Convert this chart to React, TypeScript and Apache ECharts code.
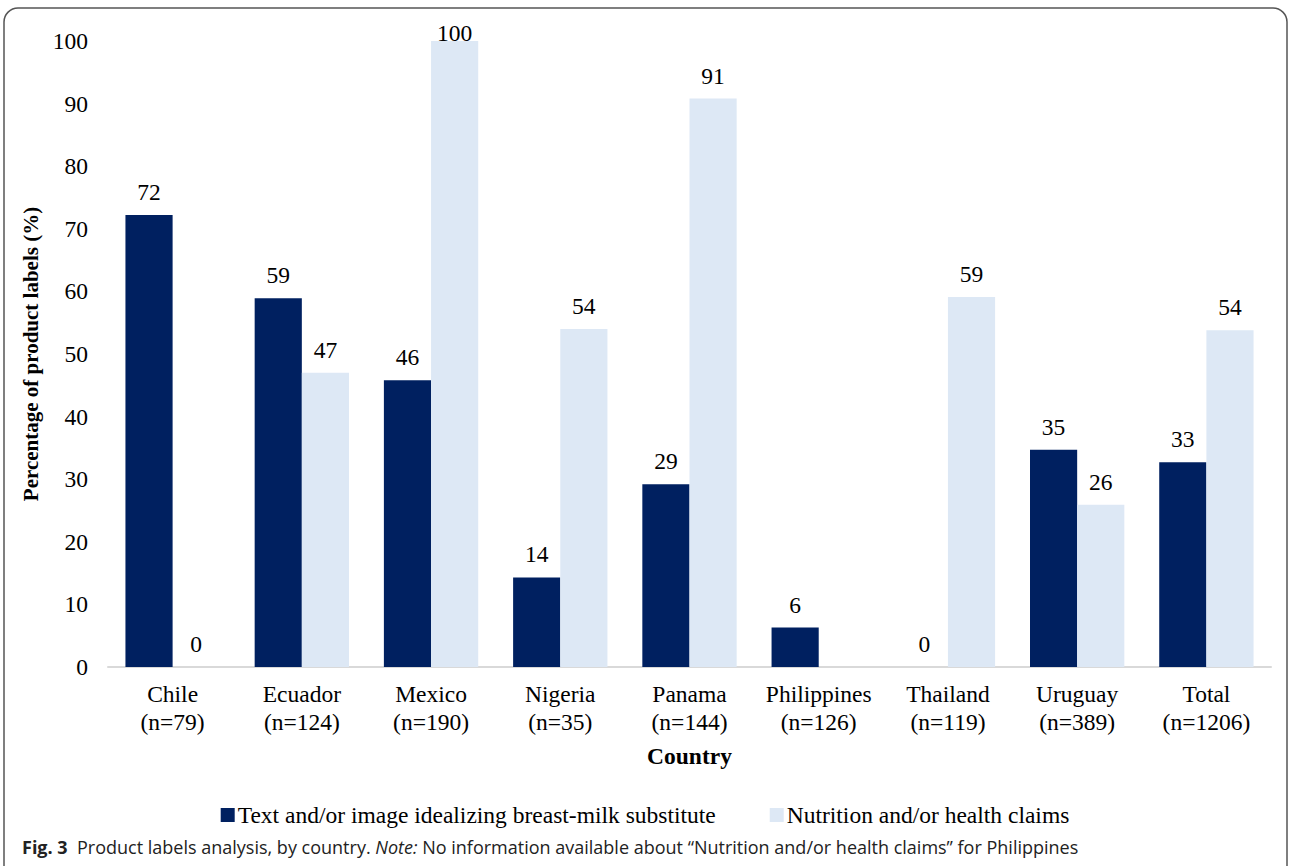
import React, { useEffect, useRef } from "react";
import * as echarts from "echarts";

const categories = [
  "Chile\n(n=79)",
  "Ecuador\n(n=124)",
  "Mexico\n(n=190)",
  "Nigeria\n(n=35)",
  "Panama\n(n=144)",
  "Philippines\n(n=126)",
  "Thailand\n(n=119)",
  "Uruguay\n(n=389)",
  "Total\n(n=1206)",
];
const idealizing = [72.2, 58.9, 45.8, 14.3, 29.2, 6.3, 0, 34.7, 32.7];
const claims: (number | null)[] = [0, 47.0, 100, 54.0, 90.8, null, 59.1, 25.9, 53.8];
const seriesNames = [
  "Text and/or image idealizing breast-milk substitute",
  "Nutrition and/or health claims",
];
const colors = ["#002060", "#DDE8F5"];

const SERIF = "'Liberation Serif', 'Times New Roman', serif";
const SANS = "'Open Sans', 'Noto Sans', sans-serif";
const FS = 23.5;

export default function App() {
  const ref = useRef<HTMLDivElement>(null);
  useEffect(() => {
    document.body.style.margin = "0";
    const chart = echarts.init(ref.current!, null, { renderer: "svg" });
    const label = {
      show: true,
      position: "top" as const,
      distance: 11,
      fontFamily: SERIF,
      fontSize: FS,
      color: "#000",
      formatter: (p: any) => (p.value == null ? "" : String(Math.round(p.value))),
    };
    const toData = (arr: (number | null)[]) =>
      arr.map((v) => (v != null && v >= 100 ? { value: v, label: { distance: -4 } } : v));
    chart.setOption({
      animation: false,
      backgroundColor: "#fff",
      grid: { left: 108, right: 19, top: 41, bottom: 199, containLabel: false },
      legend: {
        bottom: 34,
        left: "center",
        itemWidth: 14,
        itemHeight: 14,
        itemGap: 54,
        icon: "rect",
        textStyle: { fontFamily: SERIF, fontSize: FS, color: "#000", padding: [0, 0, 0, -2] },
        data: seriesNames,
      },
      xAxis: {
        type: "category",
        data: categories,
        name: "Country",
        nameLocation: "middle",
        nameGap: 77,
        nameTextStyle: { fontFamily: SERIF, fontSize: FS, fontWeight: "bold", color: "#000" },
        axisLine: { lineStyle: { color: "#D9D9D9", width: 2 } },
        axisTick: { show: false },
        axisLabel: {
          fontFamily: SERIF,
          fontSize: FS,
          color: "#000",
          lineHeight: 28,
          margin: 13,
          interval: 0,
        },
      },
      yAxis: {
        type: "value",
        min: 0,
        max: 100,
        interval: 10,
        name: "Percentage of product labels (%)",
        nameLocation: "middle",
        nameGap: 63,
        nameTextStyle: { fontFamily: SERIF, fontSize: 21, fontWeight: "bold", color: "#000" },
        axisLine: { show: false },
        axisTick: { show: false },
        splitLine: { show: false },
        axisLabel: { fontFamily: SERIF, fontSize: FS, color: "#000", margin: 20 },
      },
      series: [
        {
          name: seriesNames[0],
          type: "bar",
          data: toData(idealizing),
          itemStyle: { color: colors[0] },
          barGap: "0%",
          barCategoryGap: "27%",
          label,
        },
        {
          name: seriesNames[1],
          type: "bar",
          data: toData(claims),
          itemStyle: { color: colors[1] },
          barGap: "0%",
          barCategoryGap: "27%",
          label,
        },
      ],
      graphic: [
        {
          type: "rect",
          shape: { x: 4, y: 8, width: 1283, height: 900, r: 14 },
          style: { fill: "none", stroke: "#555", lineWidth: 1.5 },
          silent: true,
        },
        {
          type: "text",
          left: 22,
          top: 838,
          style: {
            text: "{b|Fig. 3}  Product labels analysis, by country. {i|Note:} No information available about \u201cNutrition and/or health claims\u201d for Philippines",
            fontFamily: SANS,
            fontSize: 18,
            fill: "#222",
            rich: {
              b: { fontFamily: SANS, fontSize: 18, fontWeight: "bold", fill: "#222" },
              i: { fontFamily: SANS, fontSize: 18, fontStyle: "italic", fill: "#222" },
            },
          },
        },
      ],
    });
    return () => chart.dispose();
  }, []);
  return <div ref={ref} style={{ width: 1290, height: 866 }} />;
}
